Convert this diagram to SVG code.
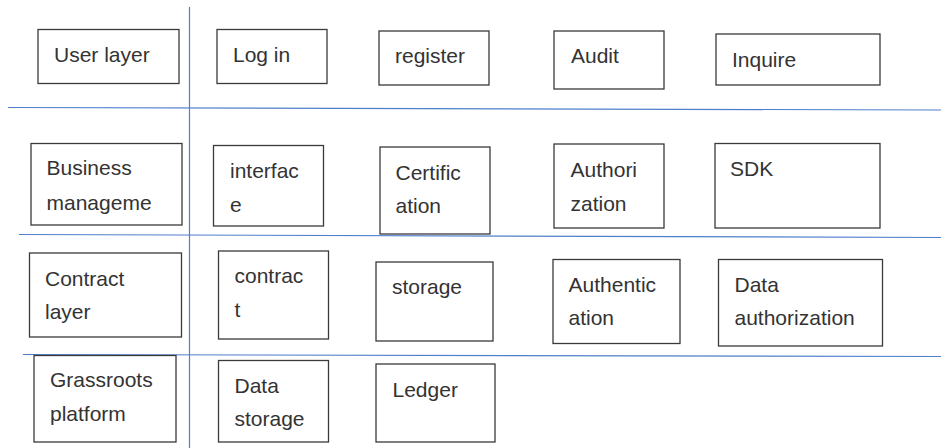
<svg xmlns="http://www.w3.org/2000/svg" width="941" height="448" viewBox="0 0 941 448">
<style>
.box{fill:#fff;stroke:#3a3a3a;stroke-width:1.3}
.sep{stroke:#4f7fcc;stroke-width:1.2;fill:none}
text{font-family:"Liberation Sans","DejaVu Sans",sans-serif;font-size:21px;fill:#333}
</style>
<rect width="941" height="448" fill="#fff"/>
<g id="separators">
<line class="sep" x1="189.5" y1="7" x2="189.5" y2="448"/>
<line class="sep" x1="8" y1="107.5" x2="941" y2="110"/>
<line class="sep" x1="19" y1="234.5" x2="941" y2="237.5"/>
<line class="sep" x1="23" y1="354.5" x2="941" y2="356.5"/>
</g>
<g id="user-layer"><rect class="box" x="38" y="29.5" width="141" height="54"/><text x="54" y="62">User layer</text></g>
<g id="log-in"><rect class="box" x="217" y="29.5" width="110" height="54"/><text x="233" y="62">Log in</text></g>
<g id="register"><rect class="box" x="379" y="31" width="110" height="54"/><text x="395" y="63">register</text></g>
<g id="audit"><rect class="box" x="554" y="31" width="110" height="58"/><text x="571" y="63">Audit</text></g>
<g id="inquire"><rect class="box" x="716" y="34" width="164" height="51"/><text x="732" y="66.5">Inquire</text></g>

<g id="business"><rect class="box" x="31" y="143.5" width="151" height="81.5"/><text x="46.5" y="175">Business</text><text x="46.5" y="210">manageme</text></g>
<g id="interface"><rect class="box" x="213.5" y="145.5" width="110" height="80.5"/><text x="230" y="178">interfac</text><text x="230" y="211.5">e</text></g>
<g id="certification"><rect class="box" x="380" y="147" width="110" height="87"/><text x="395.5" y="180">Certific</text><text x="395.5" y="213">ation</text></g>
<g id="authorization"><rect class="box" x="554" y="144" width="110" height="84"/><text x="570.5" y="176.5">Authori</text><text x="570.5" y="210.5">zation</text></g>
<g id="sdk"><rect class="box" x="715" y="143.5" width="165" height="84.5"/><text x="730" y="175.5">SDK</text></g>

<g id="contract-layer"><rect class="box" x="29.5" y="253" width="152" height="84"/><text x="45" y="285.5">Contract</text><text x="45" y="319">layer</text></g>
<g id="contract"><rect class="box" x="218.5" y="251" width="110" height="88"/><text x="234.5" y="283">contrac</text><text x="234.5" y="316.5">t</text></g>
<g id="storage"><rect class="box" x="376" y="262" width="117" height="79"/><text x="392" y="294">storage</text></g>
<g id="authentication"><rect class="box" x="553" y="259.5" width="127" height="84"/><text x="568.5" y="291.5">Authentic</text><text x="568.5" y="325">ation</text></g>
<g id="data-authorization"><rect class="box" x="718.5" y="259.5" width="164" height="86.5"/><text x="734.5" y="291.5">Data</text><text x="734.5" y="325">authorization</text></g>

<g id="grassroots"><rect class="box" x="34" y="355.5" width="142" height="86.5"/><text x="50" y="387">Grassroots</text><text x="50" y="421">platform</text></g>
<g id="data-storage"><rect class="box" x="218.5" y="360.5" width="110" height="81.5"/><text x="234.5" y="393">Data</text><text x="234.5" y="425.5">storage</text></g>
<g id="ledger"><rect class="box" x="376" y="364" width="119" height="78"/><text x="392.5" y="396.5">Ledger</text></g>
</svg>
